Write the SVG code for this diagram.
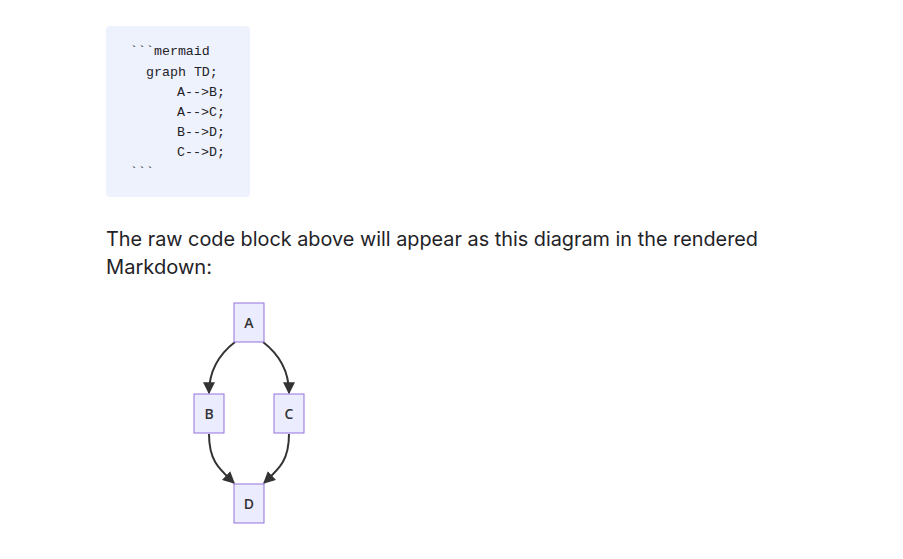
<svg xmlns="http://www.w3.org/2000/svg" width="903" height="559" viewBox="0 0 903 559">
<style>
.code{font-family:"Liberation Mono","DejaVu Sans Mono",monospace;font-size:13.3px;fill:#1f2328}
.para{font-family:"Inter","Liberation Sans",sans-serif;font-size:20px;fill:#1f2328}
.node rect{fill:#ECECFF;stroke:#9370DB;stroke-width:1}
.node text{font-family:"Open Sans","Liberation Sans",sans-serif;font-size:14px;font-weight:600;fill:#333;text-anchor:middle}
.edge{fill:none;stroke:#333;stroke-width:2}
</style>
<defs>
<marker id="arr" viewBox="0 0 10 10" refX="9" refY="5" markerWidth="6" markerHeight="6" orient="auto" markerUnits="strokeWidth">
<path d="M0,0 L10,5 L0,10 z" fill="#333"/>
</marker>
</defs>
<rect width="903" height="559" fill="#fff"/>
<g id="codeblock">
<rect x="106" y="26" width="144" height="171" rx="4" fill="#eef2fd"/>
<text class="code" x="130" y="55">```mermaid</text>
<text class="code" x="146" y="76">graph TD;</text>
<text class="code" x="177" y="96">A--&gt;B;</text>
<text class="code" x="177" y="116">A--&gt;C;</text>
<text class="code" x="177" y="136">B--&gt;D;</text>
<text class="code" x="177" y="156">C--&gt;D;</text>
<text class="code" x="130" y="176">```</text>
</g>
<g id="paragraph">
<text class="para" x="106" y="246" textLength="652" lengthAdjust="spacingAndGlyphs">The raw code block above will appear as this diagram in the rendered</text>
<text class="para" x="106" y="274" textLength="106" lengthAdjust="spacingAndGlyphs">Markdown:</text>
</g>
<g id="connectors">
<path class="edge" d="M235,342 Q209,362 209,393" marker-end="url(#arr)"/>
<path class="edge" d="M263,342 Q289,362 289,393" marker-end="url(#arr)"/>
<path class="edge" d="M209,434 C209,460 218,468 234,483" marker-end="url(#arr)"/>
<path class="edge" d="M289,434 C289,460 280,468 264,483" marker-end="url(#arr)"/>
</g>
<g id="nodeA" class="node"><rect x="234" y="303" width="30" height="39"/><text x="249" y="328">A</text></g>
<g id="nodeB" class="node"><rect x="194" y="394" width="30" height="39"/><text x="209" y="419">B</text></g>
<g id="nodeC" class="node"><rect x="274" y="394" width="30" height="39"/><text x="289" y="419">C</text></g>
<g id="nodeD" class="node"><rect x="234" y="484" width="30" height="39"/><text x="249" y="509">D</text></g>
</svg>
